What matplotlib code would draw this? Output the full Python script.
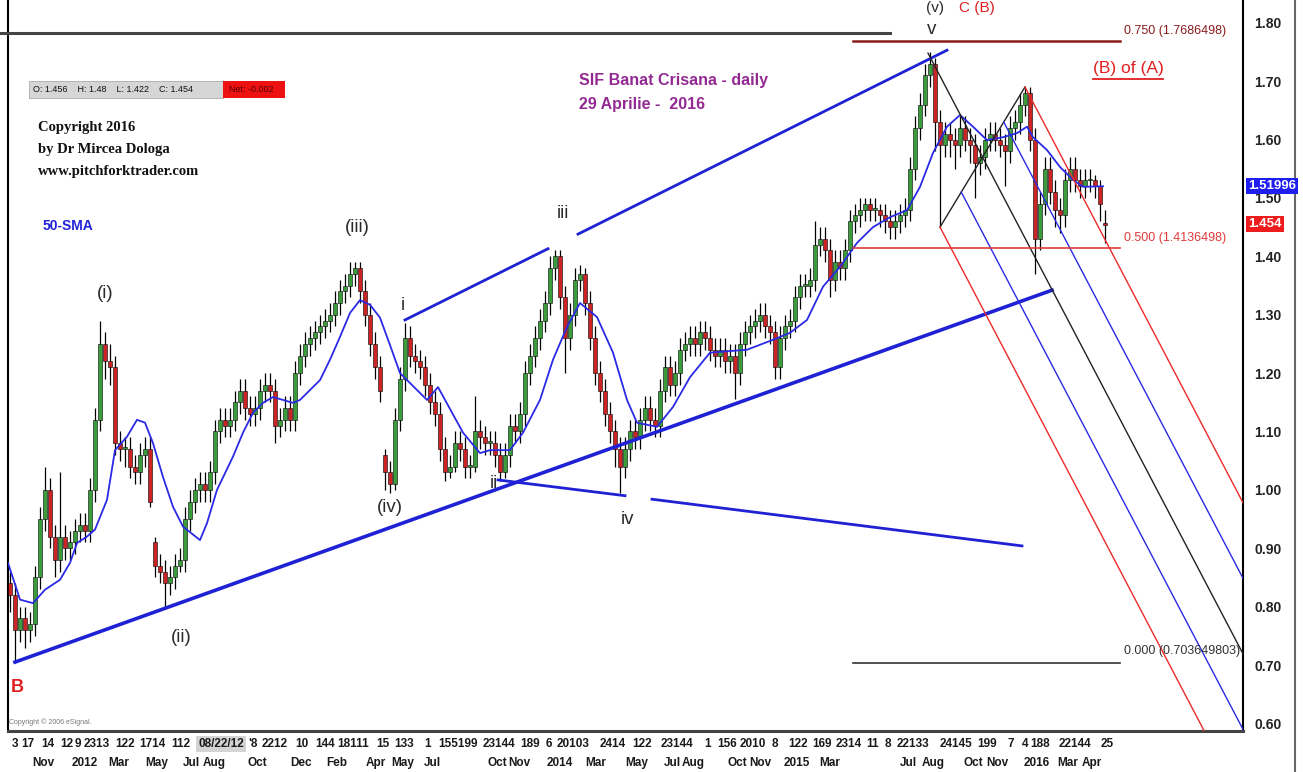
import matplotlib
matplotlib.use('Agg')
import matplotlib.pyplot as plt
from matplotlib import font_manager
from matplotlib.lines import Line2D
from matplotlib.patches import Rectangle

names = {f.name for f in font_manager.fontManager.ttflist}
narrow = 'Liberation Sans Narrow' if 'Liberation Sans Narrow' in names else 'Liberation Sans'

# daily bars resampled, one candle per ~5 trading days
opens = [
    0.84, 0.82, 0.76, 0.78, 0.76, 0.77, 0.85, 0.95, 1.00, 0.92,
    0.88, 0.92, 0.90, 0.91, 0.93, 0.94, 0.93, 1.00, 1.12, 1.25,
    1.22, 1.21, 1.08, 1.07, 1.07, 1.04, 1.03, 1.06, 1.07, 0.91,
    0.87, 0.86, 0.84, 0.85, 0.87, 0.88, 0.95, 0.98, 1.00, 1.01,
    1.00, 1.03, 1.10, 1.12, 1.11, 1.12, 1.15, 1.17, 1.14, 1.13,
    1.14, 1.17, 1.18, 1.17, 1.11, 1.12, 1.14, 1.12, 1.20, 1.23,
    1.25, 1.26, 1.27, 1.28, 1.29, 1.30, 1.32, 1.34, 1.35, 1.37,
    1.38, 1.34, 1.30, 1.25, 1.21, 1.06, 1.03, 1.01, 1.12, 1.19,
    1.26, 1.23, 1.22, 1.21, 1.18, 1.15, 1.13, 1.07, 1.03, 1.04,
    1.08, 1.07, 1.04, 1.04, 1.10, 1.09, 1.08, 1.08, 1.06, 1.03,
    1.06, 1.11, 1.10, 1.13, 1.20, 1.23, 1.26, 1.29, 1.32, 1.38,
    1.40, 1.33, 1.26, 1.30, 1.36, 1.37, 1.32, 1.26, 1.20, 1.17,
    1.13, 1.10, 1.07, 1.04, 1.07, 1.10, 1.09, 1.12, 1.14, 1.12,
    1.11, 1.17, 1.21, 1.18, 1.20, 1.24, 1.25, 1.26, 1.25, 1.27,
    1.26, 1.24, 1.23, 1.24, 1.22, 1.23, 1.20, 1.25, 1.27, 1.28,
    1.29, 1.30, 1.28, 1.27, 1.21, 1.26, 1.28, 1.29, 1.33, 1.35,
    1.35, 1.36, 1.42, 1.43, 1.41, 1.36, 1.39, 1.38, 1.41, 1.46,
    1.47, 1.48, 1.49, 1.48, 1.48, 1.47, 1.46, 1.45, 1.46, 1.47,
    1.48, 1.55, 1.62, 1.66, 1.71, 1.73, 1.63, 1.59, 1.61, 1.60,
    1.59, 1.62, 1.60, 1.59, 1.56, 1.57, 1.60, 1.61, 1.60, 1.59,
    1.58, 1.62, 1.63, 1.66, 1.68, 1.60, 1.43, 1.49, 1.55, 1.51,
    1.48, 1.47, 1.53, 1.55, 1.53, 1.52, 1.53, 1.53, 1.52, 1.456,
]
highs = [
    0.86, 0.84, 0.80, 0.80, 0.79, 0.87, 0.97, 1.04, 1.02, 0.94,
    1.03, 0.94, 0.93, 0.95, 0.96, 0.96, 1.02, 1.14, 1.29, 1.27,
    1.25, 1.23, 1.10, 1.09, 1.09, 1.06, 1.08, 1.09, 1.09, 0.92,
    0.89, 0.88, 0.87, 0.89, 0.90, 0.97, 1.00, 1.02, 1.03, 1.03,
    1.05, 1.12, 1.14, 1.14, 1.14, 1.17, 1.19, 1.19, 1.16, 1.16,
    1.19, 1.20, 1.20, 1.19, 1.14, 1.16, 1.16, 1.22, 1.25, 1.27,
    1.28, 1.29, 1.30, 1.31, 1.32, 1.34, 1.36, 1.37, 1.39, 1.39,
    1.39, 1.36, 1.32, 1.27, 1.23, 1.07, 1.05, 1.14, 1.21, 1.285,
    1.28, 1.25, 1.24, 1.23, 1.20, 1.17, 1.15, 1.09, 1.06, 1.10,
    1.10, 1.09, 1.06, 1.16, 1.12, 1.11, 1.10, 1.10, 1.08, 1.08,
    1.13, 1.13, 1.15, 1.22, 1.25, 1.28, 1.31, 1.34, 1.40, 1.41,
    1.41, 1.35, 1.32, 1.38, 1.385, 1.38, 1.34, 1.28, 1.22, 1.19,
    1.15, 1.12, 1.09, 1.09, 1.12, 1.12, 1.14, 1.16, 1.16, 1.14,
    1.19, 1.23, 1.23, 1.22, 1.26, 1.27, 1.28, 1.28, 1.29, 1.29,
    1.28, 1.26, 1.26, 1.26, 1.25, 1.25, 1.27, 1.29, 1.30, 1.31,
    1.32, 1.32, 1.30, 1.29, 1.28, 1.30, 1.31, 1.35, 1.37, 1.37,
    1.38, 1.46, 1.45, 1.45, 1.43, 1.41, 1.41, 1.43, 1.48, 1.49,
    1.50, 1.50, 1.50, 1.50, 1.49, 1.49, 1.48, 1.48, 1.49, 1.50,
    1.57, 1.64, 1.68, 1.73, 1.75, 1.74, 1.65, 1.63, 1.63, 1.62,
    1.64, 1.64, 1.62, 1.61, 1.59, 1.62, 1.63, 1.63, 1.62, 1.61,
    1.64, 1.65, 1.68, 1.69, 1.69, 1.62, 1.51, 1.57, 1.57, 1.53,
    1.50, 1.55, 1.57, 1.57, 1.55, 1.55, 1.55, 1.54, 1.53, 1.48,
]
lows = [
    0.79, 0.705, 0.74, 0.73, 0.74, 0.75, 0.83, 0.93, 0.90, 0.85,
    0.86, 0.88, 0.88, 0.89, 0.91, 0.91, 0.91, 0.98, 1.10, 1.19,
    1.18, 1.06, 1.05, 1.04, 1.02, 1.01, 1.01, 1.04, 0.97, 0.85,
    0.84, 0.80, 0.82, 0.83, 0.86, 0.86, 0.93, 0.96, 0.98, 0.98,
    0.98, 1.01, 1.08, 1.09, 1.09, 1.10, 1.13, 1.12, 1.11, 1.11,
    1.12, 1.15, 1.15, 1.08, 1.09, 1.10, 1.10, 1.10, 1.18, 1.21,
    1.23, 1.24, 1.25, 1.26, 1.27, 1.28, 1.30, 1.32, 1.33, 1.35,
    1.32, 1.28, 1.23, 1.19, 1.15, 1.00, 0.995, 1.00, 1.10, 1.17,
    1.21, 1.20, 1.19, 1.16, 1.13, 1.11, 1.05, 1.015, 1.02, 1.03,
    1.05, 1.02, 1.02, 1.03, 1.07, 1.06, 1.06, 1.04, 1.015, 1.02,
    1.04, 1.08, 1.08, 1.11, 1.18, 1.21, 1.24, 1.27, 1.30, 1.36,
    1.31, 1.20, 1.24, 1.28, 1.34, 1.30, 1.24, 1.18, 1.15, 1.11,
    1.08, 1.04, 0.995, 1.02, 1.05, 1.07, 1.07, 1.10, 1.10, 1.09,
    1.09, 1.15, 1.16, 1.16, 1.18, 1.22, 1.23, 1.23, 1.23, 1.24,
    1.22, 1.21, 1.21, 1.20, 1.20, 1.155, 1.18, 1.23, 1.25, 1.26,
    1.27, 1.26, 1.25, 1.19, 1.19, 1.24, 1.26, 1.27, 1.31, 1.33,
    1.33, 1.34, 1.40, 1.39, 1.33, 1.34, 1.36, 1.36, 1.39, 1.44,
    1.45, 1.46, 1.46, 1.46, 1.45, 1.44, 1.43, 1.43, 1.44, 1.45,
    1.46, 1.53, 1.60, 1.64, 1.69, 1.58, 1.45, 1.57, 1.57, 1.55,
    1.57, 1.58, 1.56, 1.50, 1.54, 1.55, 1.58, 1.58, 1.57, 1.52,
    1.56, 1.60, 1.61, 1.64, 1.58, 1.37, 1.41, 1.47, 1.49, 1.45,
    1.44, 1.45, 1.51, 1.51, 1.50, 1.50, 1.51, 1.50, 1.46, 1.422,
]
closes = [
    0.82, 0.76, 0.78, 0.76, 0.77, 0.85, 0.95, 1.00, 0.92, 0.88,
    0.92, 0.90, 0.91, 0.93, 0.94, 0.93, 1.00, 1.12, 1.25, 1.22,
    1.21, 1.08, 1.07, 1.07, 1.04, 1.03, 1.06, 1.07, 0.98, 0.87,
    0.86, 0.84, 0.85, 0.87, 0.88, 0.95, 0.98, 1.00, 1.01, 1.00,
    1.03, 1.10, 1.12, 1.11, 1.12, 1.15, 1.17, 1.14, 1.13, 1.14,
    1.17, 1.18, 1.17, 1.11, 1.12, 1.14, 1.12, 1.20, 1.23, 1.25,
    1.26, 1.27, 1.28, 1.29, 1.30, 1.32, 1.34, 1.35, 1.37, 1.38,
    1.34, 1.30, 1.25, 1.21, 1.17, 1.03, 1.01, 1.12, 1.19, 1.26,
    1.23, 1.22, 1.21, 1.18, 1.15, 1.13, 1.07, 1.03, 1.04, 1.08,
    1.07, 1.04, 1.04, 1.10, 1.09, 1.08, 1.08, 1.06, 1.03, 1.06,
    1.11, 1.10, 1.13, 1.20, 1.23, 1.26, 1.29, 1.32, 1.38, 1.40,
    1.33, 1.26, 1.30, 1.36, 1.37, 1.32, 1.26, 1.20, 1.17, 1.13,
    1.10, 1.07, 1.04, 1.07, 1.10, 1.09, 1.12, 1.14, 1.12, 1.11,
    1.17, 1.21, 1.18, 1.20, 1.24, 1.25, 1.26, 1.25, 1.27, 1.26,
    1.24, 1.23, 1.24, 1.22, 1.23, 1.20, 1.25, 1.27, 1.28, 1.29,
    1.30, 1.28, 1.27, 1.21, 1.26, 1.28, 1.29, 1.33, 1.35, 1.35,
    1.36, 1.42, 1.43, 1.41, 1.36, 1.39, 1.38, 1.41, 1.46, 1.47,
    1.48, 1.49, 1.48, 1.48, 1.47, 1.46, 1.45, 1.46, 1.47, 1.48,
    1.55, 1.62, 1.66, 1.71, 1.73, 1.63, 1.59, 1.61, 1.60, 1.59,
    1.62, 1.60, 1.59, 1.56, 1.57, 1.60, 1.61, 1.60, 1.59, 1.58,
    1.62, 1.63, 1.66, 1.68, 1.60, 1.43, 1.49, 1.55, 1.51, 1.48,
    1.47, 1.53, 1.55, 1.53, 1.52, 1.53, 1.53, 1.52, 1.49, 1.454,
]

# 50-SMA (bar position, value)
sma_x = [-0.4, 2, 4.6, 7, 10, 12, 13.4, 15.4, 17, 19.4, 21, 23.4, 25.4, 27, 28.6,
         30.6, 32.6, 34.6, 38, 39.4, 41.4, 44.6, 46.6, 48.6, 50.6, 52.6, 54.6,
         56.6, 58, 60, 62, 64, 66, 68, 70, 72, 74, 76, 78, 83.4, 85.6, 90.6, 94,
         96, 100, 102.6, 106, 108.6, 111.4, 114, 117.4, 120.6, 123.4, 125.4,
         129.4, 132.6, 136, 140, 147.4, 152.6, 156, 159.4, 162.6, 166, 169.4,
         172.6, 176, 179.4, 182, 184.6, 187.4, 190, 192.6, 195.4, 198.6, 201.4,
         203.4, 204.6, 207.4, 210, 212.6, 214.6, 218.6]
sma_y = [0.875, 0.812, 0.806, 0.829, 0.846, 0.875, 0.909, 0.920, 0.932, 0.983,
         1.068, 1.091, 1.120, 1.115, 1.080, 1.022, 0.971, 0.937, 0.914, 0.943,
         1.000, 1.057, 1.098, 1.132, 1.149, 1.159, 1.154, 1.149, 1.154, 1.171,
         1.188, 1.223, 1.262, 1.303, 1.325, 1.317, 1.295, 1.248, 1.200, 1.154,
         1.176, 1.098, 1.063, 1.068, 1.068, 1.098, 1.154, 1.223, 1.279, 1.320,
         1.296, 1.235, 1.154, 1.115, 1.108, 1.142, 1.193, 1.235, 1.240, 1.257,
         1.269, 1.291, 1.348, 1.382, 1.423, 1.450, 1.467, 1.479, 1.519, 1.577,
         1.622, 1.642, 1.622, 1.599, 1.604, 1.611, 1.622, 1.604, 1.582, 1.553,
         1.531, 1.519, 1.520]

# hand-drawn trendlines (bar, price)
lower_x, lower_y = [1, 208.4], [0.705, 1.342]
upper_x1, upper_y1 = [79, 107.6], [1.291, 1.413]
upper_x2, upper_y2 = [113.6, 187.4], [1.438, 1.753]
wave2_x1, wave2_y1 = [97.6, 123], [1.017, 0.990]
wave2_x2, wave2_y2 = [128.4, 202.4], [0.984, 0.904]

# pitchfork pivots A, B, C
pivot_x = [183.6, 186.0, 203.0]
pivot_y = [1.748, 1.450, 1.690]

# fibonacci levels
fib_start, fib_end = 168.6, 222
fib_levels = [1.7686498, 1.4136498, 0.703649803]
fib_names = ['0.750 (1.7686498)', '0.500 (1.4136498)', '0.000 (0.703649803)']
fib_colors = ['#8b1c1c', '#e03a3a', '#333333']

yticks = [0.60, 0.70, 0.80, 0.90, 1.00, 1.10, 1.20, 1.30, 1.40, 1.50, 1.60, 1.70, 1.80]

day_pos = [1, 3.6, 7.6, 11.4, 13.6, 17.4, 23, 28.4, 34.2, 42.2, 48.6, 53, 58.4, 63,
           68.6, 74.6, 78.8, 83.6, 89.6, 97.8, 104, 107.8, 112.6, 120.6, 126.4,
           133.4, 139.6, 143.4, 148.6, 153, 157.6, 162.4, 167.8, 172.6, 175.6,
           180.6, 189.2, 195.4, 200.2, 203, 206, 213, 219.4]
day_labels = ['3', '17', '14', '12', '9', '2313', '122', '1714', '112', '08/22/12',
              "'8", '2212', '10', '144', '18111', '15', '133', '1', '155199',
              '23144', '189', '6', '20103', '2414', '122', '23144', '1', '156',
              '2010', '8', '122', '169', '2314', '11', '8', '22133', '24145',
              '199', '7', '4', '188', '22144', '25']
month_pos = [6.6, 15, 21.8, 29.4, 36.2, 40.8, 49.4, 58.2, 65.4, 73.2, 78.6, 84.4,
             89.6, 97.4, 101.8, 110, 117.2, 125.4, 132.4, 136.6, 145.4, 150,
             157.4, 164, 172.6, 179.6, 184.6, 192.6, 197.4, 205.4, 211.6, 216.4]
month_labels = ['Nov', '2012', 'Mar', 'May', 'Jul', 'Aug', 'Oct', 'Dec', 'Feb',
                'Apr', 'May', 'Jul', 'Aug', 'Oct', 'Nov', '2014', 'Mar', 'May',
                'Jul', 'Aug', 'Oct', 'Nov', '2015', 'Mar', 'May', 'Jul', 'Aug',
                'Oct', 'Nov', '2016', 'Mar', 'Apr']

W, H = 1303, 772
fig = plt.figure(figsize=(W / 100, H / 100), dpi=100)
ax = fig.add_axes([8 / W, 41 / H, 1235 / W, 731 / H])
ax.set_xlim(-0.4, 246.6)
ax.set_ylim(0.587, 1.839)


def px(x, y):
    return x / W, 1 - y / H


# candles
idx = list(range(len(closes)))
ax.vlines(idx, lows, highs, color='black', lw=0.9, zorder=2)
bottoms = [min(o, c) for o, c in zip(opens, closes)]
heights = [max(abs(c - o), 0.003) for o, c in zip(opens, closes)]
cols = ['#3a9c3a' if c >= o else '#cc2424' for o, c in zip(opens, closes)]
ax.bar(idx, heights, bottom=bottoms, width=0.75, color=cols, edgecolor='black',
       lw=0.4, zorder=3)

ax.plot(sma_x, sma_y, color='#2a2ae6', lw=1.3, zorder=4)

blue = '#1f22d4'
ax.plot(lower_x, lower_y, color=blue, lw=2.6, zorder=5)
ax.plot(upper_x1, upper_y1, color=blue, lw=2.0, zorder=5)
ax.plot(upper_x2, upper_y2, color=blue, lw=2.0, zorder=5)
ax.plot(wave2_x1, wave2_y1, color=blue, lw=2.0, zorder=5)
ax.plot(wave2_x2, wave2_y2, color=blue, lw=2.0, zorder=5)

# Andrews pitchfork
ax_, bx, cx = pivot_x
ay, by, cy = pivot_y
mx, my = (bx + cx) / 2, (by + cy) / 2
slope = (my - ay) / (mx - ax_)
x_end = 260
ax.plot([ax_, x_end], [ay, ay + slope * (x_end - ax_)], color='#222222', lw=1.0, zorder=5)
ax.plot([bx, cx], [by, cy], color='#222222', lw=1.0, zorder=5)
for frac, col in [(0.0, '#ee2a2a'), (0.25, '#2a2ae6'), (0.75, '#2a2ae6'), (1.0, '#ee2a2a')]:
    sx = bx + frac * (cx - bx)
    sy = by + frac * (cy - by)
    ax.plot([sx, x_end], [sy, sy + slope * (x_end - sx)], color=col, lw=1.0, zorder=5)

for lvl, col, lw in zip(fib_levels, fib_colors, [1.8, 1.2, 1.2]):
    ax.plot([fib_start, fib_end], [lvl, lvl], color=col, lw=lw, zorder=5)

# frame
ax.spines['top'].set_visible(False)
ax.spines['left'].set_linewidth(1.5)
ax.spines['right'].set_linewidth(1.5)
ax.spines['bottom'].set_linewidth(2.2)
ax.spines['bottom'].set_color('#444444')
fig.add_artist(Line2D([0, 890 / W], [1 - 33 / H] * 2, color='#444444', lw=2.2))
fig.add_artist(Line2D([1295 / W] * 2, [0, 1], color='#666666', lw=1.5))

ax.yaxis.tick_right()
ax.set_yticks(yticks, [f'{v:.2f}' for v in yticks])
ax.tick_params(axis='y', length=0, pad=8)
for t in ax.get_yticklabels():
    t.set_fontfamily(narrow)
    t.set_fontsize(10)
    t.set_fontweight('bold')
    t.set_color('#222222')

ax.set_xticks(day_pos, day_labels)
ax.set_xticks(month_pos, month_labels, minor=True)
ax.tick_params(axis='x', which='both', length=0)
ax.tick_params(axis='x', which='major', pad=5)
ax.tick_params(axis='x', which='minor', pad=19)
for t in ax.get_xticklabels() + ax.get_xticklabels(minor=True):
    t.set_fontfamily(narrow)
    t.set_fontsize(8.5)
    t.set_fontweight('bold')
    t.set_color('#1a1a1a')
for t in ax.get_xticklabels():
    if t.get_text() == '08/22/12':
        t.set_bbox(dict(facecolor='#d4d4d4', edgecolor='none', pad=1.5))

# texts
wave_kw = dict(family=narrow, fontsize=13.5, color='#2a2a2a', ha='center', va='center')
for s, x, y in [('(i)', 105, 294), ('(ii)', 181, 637), ('(iii)', 357, 227),
                ('(iv)', 390, 508), ('i', 403, 305), ('ii', 494, 483),
                ('iii', 563, 213), ('iv', 628, 520), ('v', 932, 29)]:
    fig.text(*px(x, y), s, **wave_kw)
fig.text(*px(935, 1), '(v)', family=narrow, fontsize=11, color='#2a2a2a', ha='center', va='top')
fig.text(*px(977, 1), 'C (B)', family=narrow, fontsize=11, color='#e02020', ha='center', va='top')
fig.text(*px(17, 688), 'B', family=narrow, fontsize=13, color='#e02020', weight='bold', ha='center', va='center')
fig.text(*px(1128, 68), '(B) of (A)', family=narrow, fontsize=12.5, color='#e02020', ha='center', va='center')
fig.add_artist(Line2D([1093 / W, 1163 / W], [1 - 79 / H] * 2, color='#e02020', lw=1.3))

fig.text(*px(579, 80), 'SIF Banat Crisana - daily', family=narrow, fontsize=11.5,
         weight='bold', color='#932a94', ha='left', va='center')
fig.text(*px(579, 104), '29 Aprilie -  2016', family=narrow, fontsize=11.5,
         weight='bold', color='#932a94', ha='left', va='center')

for s, y in [('Copyright 2016', 127), ('by Dr Mircea Dologa', 150), ('www.pitchforktrader.com', 172)]:
    fig.text(*px(38, y), s, family='Liberation Serif', fontsize=10.5, weight='bold',
             color='#111111', ha='left', va='center')
fig.text(*px(43, 226), '50-SMA', family=narrow, fontsize=10, weight='bold',
         color='#2323d8', ha='left', va='center')

fig.add_artist(Rectangle(px(29, 98), 194 / W, 17 / H, facecolor='#d6d6d6', edgecolor='#aaaaaa', lw=0.6))
fig.add_artist(Rectangle(px(223, 98), 62 / W, 17 / H, facecolor='#ee1111', edgecolor='none'))
fig.text(*px(33, 89.5), 'O: 1.456    H: 1.48    L: 1.422    C: 1.454', family=narrow,
         fontsize=6.5, color='#111111', ha='left', va='center')
fig.text(*px(229, 89.5), 'Net: -0.002', family=narrow, fontsize=6.5, color='#550000',
         ha='left', va='center')
fig.text(*px(9, 722), 'Copyright \u00a9 2006 eSignal.', family=narrow, fontsize=5,
         color='#777777', ha='left', va='center')

for s, y, col in zip(fib_names, [31, 238, 651], fib_colors):
    fig.text(*px(1124, y), s, family=narrow, fontsize=9, color=col, ha='left', va='center')

fig.text(*px(1248, 186), '1.51996', family=narrow, fontsize=9.5, weight='bold', color='white',
         ha='left', va='center', bbox=dict(facecolor='#1e1ef0', edgecolor='none', pad=1.5))
fig.text(*px(1248, 224), '1.454', family=narrow, fontsize=9.5, weight='bold', color='white',
         ha='left', va='center', bbox=dict(facecolor='#ee1c1c', edgecolor='none', pad=1.5))

fig.savefig('out.png', dpi=100)
